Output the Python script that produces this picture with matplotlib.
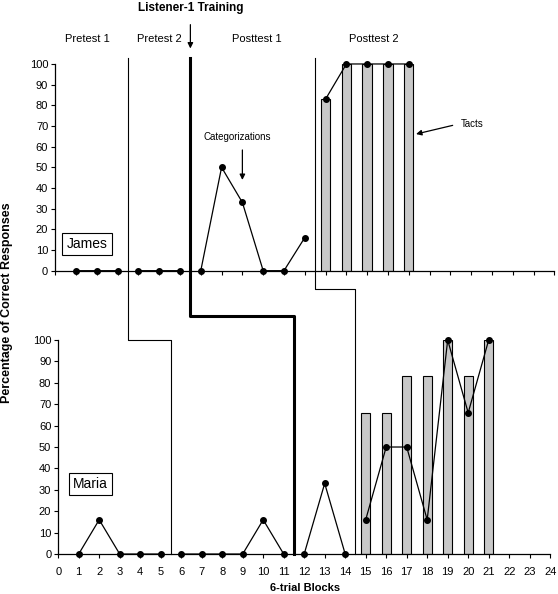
import matplotlib
matplotlib.use("Agg")
import matplotlib.pyplot as plt
import numpy as np
from matplotlib.lines import Line2D

plt.rcParams['font.family'] = ['Liberation Sans', 'DejaVu Sans']

nan = np.nan

# James: categorization data (gaps at phase changes)
james_x = [1, 2, 3, nan, 4, 5, 6, nan, 7, 8, 9, 10, 11, 12, nan, 13, 14, 15, 16, 17]
james_cat = [0, 0, 0, nan, 0, 0, 0, nan, 0, 50, 33, 0, 0, 16, nan, 83, 100, 100, 100, 100]
james_tact_x = [13, 14, 15, 16, 17]
james_tact = [83, 100, 100, 100, 100]

# Maria
maria_x = [1, 2, 3, 4, 5, nan, 6, 7, 8, 9, 10, 11, nan, 12, 13, 14, nan,
           15, 16, 17, 18, 19, 20, 21]
maria_cat = [0, 16, 0, 0, 0, nan, 0, 0, 0, 0, 16, 0, nan, 0, 33, 0, nan,
             16, 50, 50, 16, 100, 66, 100]
maria_tact_x = [15, 16, 17, 18, 19, 20, 21]
maria_tact = [66, 66, 83, 83, 100, 83, 100]

phase_labels = ["Pretest 1", "Pretest 2", "Posttest 1", "Posttest 2"]
phase_label_x = [1.53, 4.99, 9.7, 15.33]
# phase change lines: x in James panel, x in Maria panel, height of the step (Maria data)
james_breaks = [3.5, 6.5, 12.5]
maria_breaks = [5.5, 11.5, 14.5]
step_levels = [100, 111, 124]
break_widths = [0.8, 2.2, 0.8]

fig = plt.figure(figsize=(5.58, 5.94), dpi=100)
ax1 = fig.add_axes([0.0989, 0.5443, 0.8946, 0.348])
ax2 = fig.add_axes([0.1043, 0.0673, 0.8817, 0.3603])

for ax in (ax1, ax2):
    ax.set_xlim(0, 24)
    ax.set_ylim(0, 100)
    ax.set_yticks(range(0, 101, 10))
    ax.set_xticks(range(0, 25))
    ax.spines['top'].set_visible(False)
    ax.spines['right'].set_visible(False)
    ax.spines['left'].set_linewidth(0.9)
    ax.spines['bottom'].set_linewidth(0.9)
    ax.tick_params(axis='both', direction='out', length=3, width=0.8,
                   labelsize=8, colors='black', pad=2)
    ax.tick_params(axis='x', pad=6)

ax1.tick_params(axis='x', labelbottom=False)

ax1.bar(james_tact_x, james_tact, width=0.45, color='#c8c8c8',
        edgecolor='black', linewidth=0.8, zorder=2)
ax1.plot(james_x, james_cat, color='black', lw=0.9, marker='o', ms=4,
         clip_on=False, zorder=3)

ax2.bar(maria_tact_x, maria_tact, width=0.45, color='#c8c8c8',
        edgecolor='black', linewidth=0.8, zorder=2)
ax2.plot(maria_x, maria_cat, color='black', lw=0.9, marker='o', ms=4,
         clip_on=False, zorder=3)

# phase change lines spanning both panels
inv = fig.transFigure.inverted()
for xa, xb, lev, lw in zip(james_breaks, maria_breaks, step_levels, break_widths):
    p0 = ax1.transData.transform((xa, 103))
    p_step = ax2.transData.transform((xb, lev))
    p_end = ax2.transData.transform((xb, 0))
    pts = np.array([p0, (p0[0], p_step[1]), p_step, p_end])
    pts = inv.transform(pts)
    fig.add_artist(Line2D(pts[:, 0], pts[:, 1], color='black', lw=lw,
                          transform=fig.transFigure))

for lab, x in zip(phase_labels, phase_label_x):
    ax1.text(x, 112, lab, ha='center', va='center', fontsize=8,
             clip_on=False)

ax1.annotate("Listener-1 Training", xy=(6.5, 107.5), xytext=(6.5, 127.3),
             ha='center', va='center', fontsize=8.5, fontweight='bold',
             annotation_clip=False,
             arrowprops=dict(arrowstyle='-|>', color='black', lw=0.9,
                             mutation_scale=8, shrinkA=6, shrinkB=0))

ax1.annotate("", xy=(9.0, 43.9), xytext=(9.0, 58.4),
             arrowprops=dict(arrowstyle='-|>', color='black', lw=0.9,
                             mutation_scale=8, shrinkA=0, shrinkB=0))
ax1.text(8.74, 64.7, "Categorizations", ha='center', va='center', fontsize=7)

ax1.annotate("", xy=(17.35, 66.1), xytext=(19.11, 70.3),
             arrowprops=dict(arrowstyle='-|>', color='black', lw=0.9,
                             mutation_scale=8, shrinkA=0, shrinkB=0))
ax1.text(20.07, 71, "Tacts", ha='center', va='center', fontsize=7)

box = dict(boxstyle='square,pad=0.3', facecolor='white', edgecolor='black', lw=0.8)
ax1.text(1.53, 12.9, "James", ha='center', va='center', fontsize=10, bbox=box)
ax2.text(1.59, 32.7, "Maria", ha='center', va='center', fontsize=10, bbox=box)

fig.text(7 / 558, 1 - 303 / 594, "Percentage of Correct Responses", rotation=90,
         ha='center', va='center', fontsize=9, fontweight='bold')
fig.text(305 / 558, 1 - 588 / 594, "6-trial Blocks", ha='center', va='center',
         fontsize=8, fontweight='bold')

fig.savefig("out.png", dpi=100)
